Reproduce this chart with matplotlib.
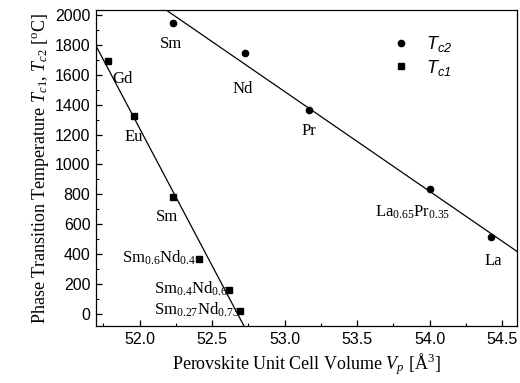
import matplotlib
matplotlib.use('Agg')
import matplotlib.pyplot as plt
import numpy as np
from matplotlib.ticker import MultipleLocator

plt.rcParams['font.family'] = 'Liberation Sans'
plt.rcParams['mathtext.fontset'] = 'custom'
plt.rcParams['mathtext.rm'] = 'Liberation Serif'
plt.rcParams['mathtext.it'] = 'Liberation Serif:italic'
plt.rcParams['mathtext.sf'] = 'Liberation Sans:italic'

# T_c2 (circles)
vol_c2 = [52.23, 52.73, 53.17, 54.00, 54.42]
temp_c2 = [1945, 1745, 1365, 835, 515]
names_c2 = ['Sm', 'Nd', 'Pr', r'$\mathrm{La_{0.65}Pr_{0.35}}$', 'La']

# T_c1 (squares)
vol_c1 = [51.78, 51.96, 52.23, 52.41, 52.62, 52.69]
temp_c1 = [1690, 1325, 785, 370, 160, 22]
names_c1 = ['Gd', 'Eu', 'Sm', r'$\mathrm{Sm_{0.6}Nd_{0.4}}$',
            r'$\mathrm{Sm_{0.4}Nd_{0.6}}$', r'$\mathrm{Sm_{0.27}Nd_{0.73}}$']

# label anchor points (data coords), horizontal alignment
lab_c2 = [(52.22, 1779, 'center'), (52.71, 1478, 'center'), (53.17, 1197, 'center'),
          (53.62, 649, 'left'), (54.44, 328, 'center')]
lab_c1 = [(51.81, 1545, 'left'), (51.90, 1157, 'left'), (52.19, 622, 'center'),
          (51.88, 341, 'left'), (52.10, 140, 'left'), (52.10, -5, 'left')]

fig = plt.figure(figsize=(5.2, 3.83), dpi=100)
ax = fig.add_axes([0.1846, 0.1488, 0.8091, 0.8251])

# linear fits
xs = np.array([51.6, 54.7])
p2 = np.polyfit(vol_c2, temp_c2, 1)
p1 = np.polyfit(vol_c1, temp_c1, 1)
ax.plot(xs, np.polyval(p2, xs), color='black', lw=0.9)
ax.plot(xs, np.polyval(p1, xs), color='black', lw=0.9)

ax.plot(vol_c2, temp_c2, 'o', color='black', ms=4.5, label=r'$\mathsf{T_{c2}}$')
ax.plot(vol_c1, temp_c1, 's', color='black', ms=3.8, label=r'$\mathsf{T_{c1}}$')

for (x, y, ha), name in zip(lab_c2, names_c2):
    ax.text(x, y, name, ha=ha, va='baseline', fontsize=12, family='Liberation Serif')
for (x, y, ha), name in zip(lab_c1, names_c1):
    ax.text(x, y, name, ha=ha, va='baseline', fontsize=12, family='Liberation Serif')

ax.set_xlim(51.7, 54.6)
ax.set_ylim(-80, 2033)
ax.xaxis.set_major_locator(MultipleLocator(0.5))
ax.xaxis.set_minor_locator(MultipleLocator(0.25))
ax.yaxis.set_major_locator(MultipleLocator(200))
ax.yaxis.set_minor_locator(MultipleLocator(100))
ax.xaxis.set_major_formatter(matplotlib.ticker.FormatStrFormatter('%.1f'))
ax.tick_params(which='both', direction='in', labelsize=11.5)
ax.tick_params(which='major', length=4.5, width=0.9, pad=4)
ax.tick_params(which='minor', length=2.5, width=0.8)
for s in ax.spines.values():
    s.set_linewidth(0.9)

ax.set_xlabel(r'Perovskite Unit Cell Volume $V_p$ [$\mathrm{\AA}^3$]',
              family='Liberation Serif', fontsize=13, labelpad=3)
ax.set_ylabel(r'Phase Transition Temperature $T_{c1}$, $T_{c2}$ [$^\mathrm{o}$C]',
              family='Liberation Serif', fontsize=13, labelpad=3)

ax.legend(loc='upper left', bbox_to_anchor=(0.66, 0.975), frameon=False,
          fontsize=13, handletextpad=0.8, labelspacing=0.2, handlelength=1.2)

fig.savefig('out.png', dpi=100)
